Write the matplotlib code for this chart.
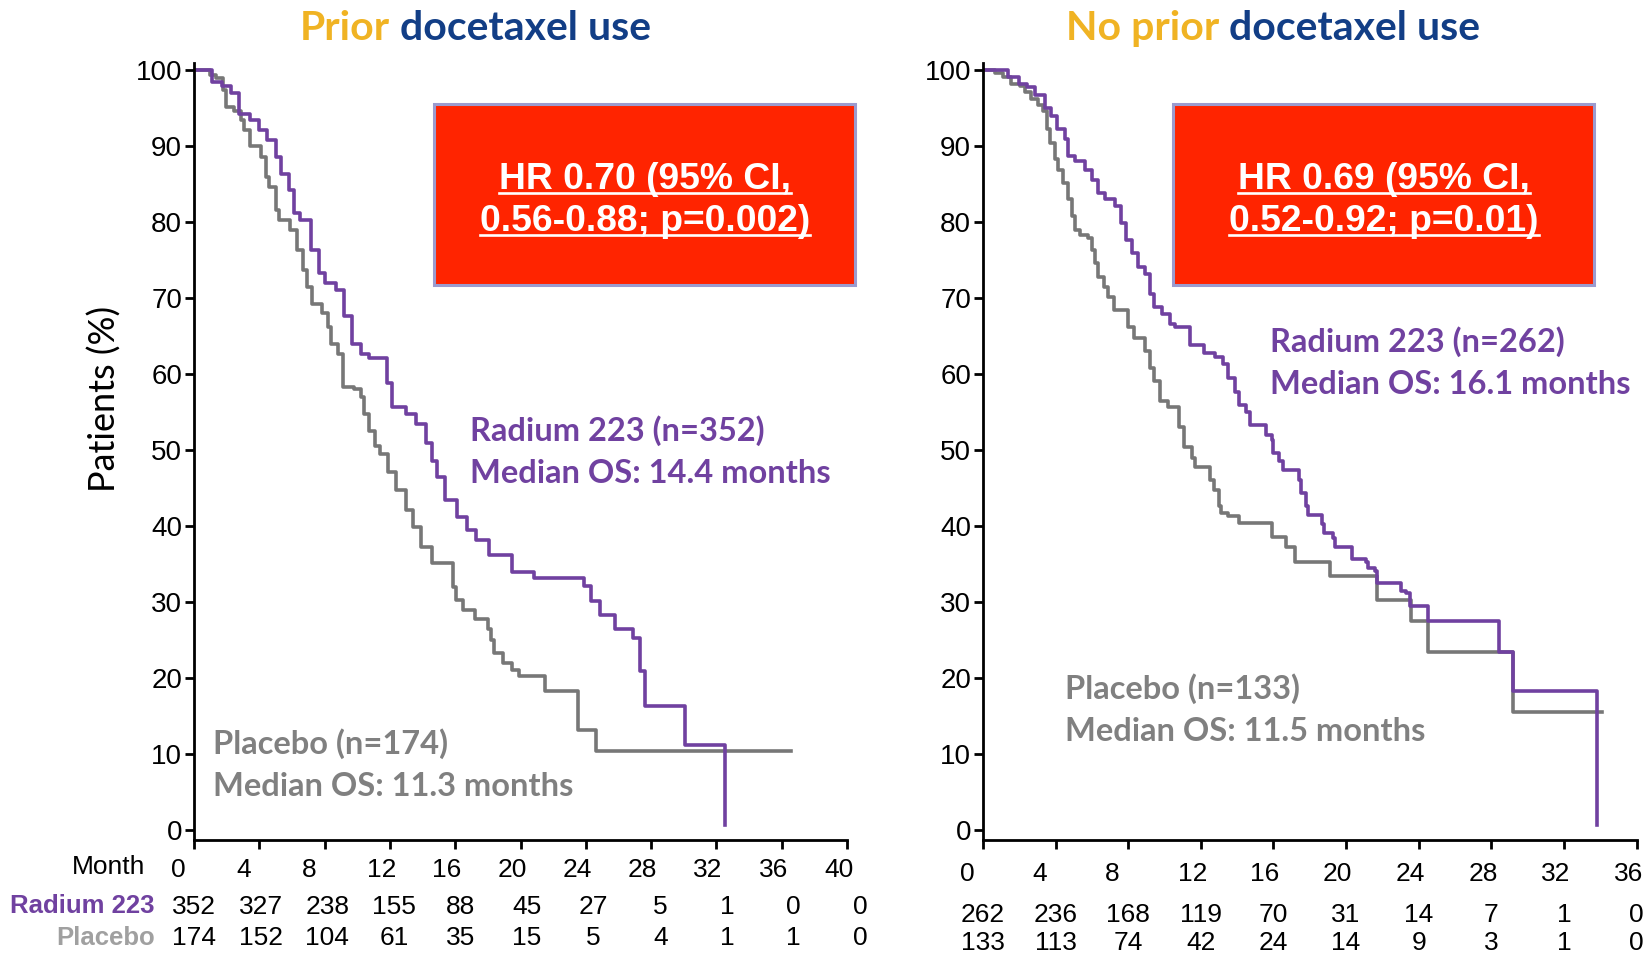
#   Overall survival by prior docetaxel use, radium-223 vs placebo
#
#Python imports
#----------------
import matplotlib
matplotlib.use("Agg")
import matplotlib.pyplot as plt
from matplotlib.patches import Rectangle
from matplotlib.lines import Line2D
from matplotlib.transforms import blended_transform_factory, ScaledTranslation
#----------------

#********************************
#   DATA (months, % alive)
#********************************
prior_ra_t = [0, 1.1, 1.7, 2.25, 2.75, 3.45, 4.0, 4.5, 5.0, 5.3, 5.8, 6.1, 6.5, 7.15, 7.65,
              8.05, 8.7, 9.2, 9.7, 10.2, 10.7, 11.85, 12.15, 13.0, 13.6, 14.2, 14.6, 14.9,
              15.4, 16.1, 16.7, 17.3, 18.1, 19.5, 20.8, 23.9, 24.3, 24.9, 25.8, 26.9, 27.3,
              27.6, 30.1, 32.5]
prior_ra_s = [100, 98.5, 98.0, 97.0, 94.3, 93.5, 92.1, 90.8, 88.6, 86.4, 84.2, 81.2, 80.3,
              76.3, 73.3, 72.0, 71.1, 67.6, 64.0, 62.7, 62.1, 58.8, 55.7, 54.8, 53.5, 50.9,
              48.5, 46.5, 43.4, 41.2, 39.5, 38.2, 36.2, 34.0, 33.1, 32.1, 30.1, 28.3, 26.4,
              25.3, 20.9, 16.3, 11.2, 0.6]

prior_pl_t = [0, 1.0, 1.35, 1.75, 1.95, 2.45, 2.85, 3.05, 3.45, 4.1, 4.4, 4.6, 5.0, 5.2,
              5.85, 6.3, 6.65, 6.95, 7.25, 7.85, 8.2, 8.4, 8.8, 9.1, 9.8, 10.2, 10.4, 10.7,
              11.1, 11.4, 11.9, 12.4, 13.0, 13.4, 13.9, 14.6, 15.85, 16.05, 16.5, 17.2, 18.0,
              18.2, 18.4, 18.9, 19.5, 19.9, 21.5, 23.5, 24.6, 36.6]
prior_pl_s = [100, 99.4, 99.0, 97.4, 95.2, 94.6, 93.5, 92.1, 90.0, 88.6, 86.0, 84.7, 81.6,
              80.3, 79.0, 76.3, 73.7, 71.5, 69.3, 68.0, 66.2, 64.0, 62.7, 58.3, 58.0, 57.0,
              54.8, 52.5, 50.5, 49.5, 47.1, 44.7, 42.1, 39.9, 37.3, 35.1, 32.0, 30.3, 29.0,
              27.7, 26.4, 25.0, 23.3, 22.0, 21.1, 20.3, 18.3, 13.1, 10.4, 10.4]

noprior_ra_t = [0, 1.4, 2.0, 2.4, 2.85, 3.4, 3.75, 4.1, 4.5, 4.7, 5.05, 5.6, 6.0, 6.35, 6.7,
                7.25, 7.6, 7.9, 8.2, 8.55, 8.9, 9.2, 9.4, 9.85, 10.3, 10.6, 11.4, 12.2, 12.8,
                13.2, 13.5, 13.9, 14.1, 14.5, 14.7, 15.6, 15.9, 16.0, 16.3, 16.5, 17.4, 17.5,
                17.8, 17.9, 18.7, 18.8, 19.3, 19.4, 20.3, 21.1, 21.2, 21.6, 21.7, 23.0, 23.3,
                23.5, 24.5, 28.4, 29.2, 33.8]
noprior_ra_s = [100, 99.1, 98.2, 97.8, 96.7, 95.1, 94.0, 92.3, 90.9, 88.7, 88.1, 86.9, 85.6,
                83.8, 83.0, 82.1, 79.9, 77.7, 75.9, 74.1, 73.2, 70.6, 68.8, 67.9, 66.6, 66.2,
                63.9, 62.8, 62.2, 61.3, 59.5, 57.7, 56.0, 55.0, 53.3, 52.0, 51.3, 49.6, 48.5,
                47.4, 46.1, 44.3, 42.6, 41.5, 40.2, 39.1, 38.4, 37.3, 35.6, 35.2, 34.5, 34.1,
                32.5, 31.4, 31.2, 29.5, 27.5, 23.4, 18.3, 0.6]

noprior_pl_t = [0, 0.65, 1.1, 1.55, 2.05, 2.3, 2.65, 3.05, 3.3, 3.5, 3.7, 3.95, 4.15, 4.4,
                4.7, 4.9, 5.05, 5.35, 5.8, 6.0, 6.15, 6.35, 6.65, 6.9, 7.2, 8.0, 8.3, 8.95,
                9.2, 9.4, 9.75, 10.2, 10.8, 11.1, 11.5, 11.7, 12.5, 12.7, 13.0, 13.1, 13.5,
                14.1, 15.9, 16.7, 17.2, 19.1, 21.7, 23.6, 24.5, 29.2, 34.1]
noprior_pl_s = [100, 99.6, 99.1, 98.2, 98.0, 97.1, 96.2, 95.4, 94.7, 92.3, 90.5, 88.3, 86.9,
                85.2, 83.0, 80.8, 79.0, 78.3, 77.9, 76.3, 74.6, 72.8, 71.5, 70.1, 68.4, 66.2,
                64.8, 63.1, 60.8, 59.1, 56.4, 55.7, 53.1, 50.4, 48.9, 47.8, 46.1, 44.8, 42.6,
                41.7, 41.3, 40.4, 38.6, 37.3, 35.2, 33.4, 30.3, 27.5, 23.4, 15.5, 15.5]

prior_months = [0, 4, 8, 12, 16, 20, 24, 28, 32, 36, 40]
prior_risk_ra = [352, 327, 238, 155, 88, 45, 27, 5, 1, 0, 0]
prior_risk_pl = [174, 152, 104, 61, 35, 15, 5, 4, 1, 1, 0]
noprior_months = [0, 4, 8, 12, 16, 20, 24, 28, 32, 36]
noprior_risk_ra = [262, 236, 168, 119, 70, 31, 14, 7, 1, 0]
noprior_risk_pl = [133, 113, 74, 42, 24, 14, 9, 3, 1, 0]

titles = [("Prior", "docetaxel use"), ("No prior", "docetaxel use")]
hr_text = [("HR 0.70 (95% CI,", "0.56-0.88; p=0.002)"),
           ("HR 0.69 (95% CI,", "0.52-0.92; p=0.01)")]
ra_labels = [("Radium 223 (n=352)", "Median OS: 14.4 months"),
             ("Radium 223 (n=262)", "Median OS: 16.1 months")]
pl_labels = [("Placebo (n=174)", "Median OS: 11.3 months"),
             ("Placebo (n=133)", "Median OS: 11.5 months")]

#-------------------------------
# STYLE
#-------------------------------
W, H = 1647, 955
PURPLE = "#7041A0"
GREY = "#777777"
GOLD = "#F0B323"
NAVY = "#123E86"
RED = "#FF2400"
NUM_FONT = ["Liberation Sans", "DejaVu Sans"]
LBL_FONT = ["Lato", "DejaVu Sans"]


def fx(px):
    return px / W


def fy(py):
    return 1 - py / H


fig = plt.figure(figsize=(W / 100, H / 100), dpi=100)
fig.patch.set_facecolor("white")

ax1 = fig.add_axes([fx(194), fy(840.4), fx(847 - 194), (840.4 - 62.8) / H])
ax2 = fig.add_axes([fx(983), fy(840.4), fx(1636.5 - 983), (840.4 - 62.8) / H])


def setup(ax, xmax, pad):
    ax.set_xlim(0, xmax)
    ax.set_ylim(-1.4, 101)
    ax.spines[["top", "right"]].set_visible(False)
    for s in ["left", "bottom"]:
        ax.spines[s].set_linewidth(2.0)
    ax.set_yticks(range(0, 101, 10))
    ax.set_xticks(range(0, xmax + 1, 4))
    ax.tick_params(axis="both", length=6.5, width=2.0, direction="out")
    ax.tick_params(axis="x", pad=pad, labelsize=19)
    ax.tick_params(axis="y", pad=2, labelsize=20)
    shift = ScaledTranslation(-23 / 100, 0, fig.dpi_scale_trans)
    for lab in ax.get_xticklabels():
        lab.set_family(NUM_FONT)
        lab.set_horizontalalignment("left")
        lab.set_transform(lab.get_transform() + shift)
    for lab in ax.get_yticklabels():
        lab.set_family(NUM_FONT)


setup(ax1, 40, 6)
setup(ax2, 36, 9)

ax1.step(prior_pl_t, prior_pl_s, where="post", color=GREY, lw=2.6)
ax1.step(prior_ra_t, prior_ra_s, where="post", color=PURPLE, lw=2.6)
ax2.step(noprior_pl_t, noprior_pl_s, where="post", color=GREY, lw=2.6)
ax2.step(noprior_ra_t, noprior_ra_s, where="post", color=PURPLE, lw=2.6)

fig.text(fx(105), fy(399), "Patients (%)", rotation=90, ha="center", va="center",
         fontsize=26, family=LBL_FONT)

# numbers at risk (left table drifts slightly right of its ticks)
for ax, months, ra, pl, rows, drift in [
        (ax1, prior_months, prior_risk_ra, prior_risk_pl, (907, 938), 1.02),
        (ax2, noprior_months, noprior_risk_ra, noprior_risk_pl, (915, 943), 1.0)]:
    tr = blended_transform_factory(ax.transData, fig.transFigure)
    for m, a, b in zip(months, ra, pl):
        ax.text(m * drift, fy(rows[0]), str(a), transform=tr, ha="center", va="center",
                fontsize=19, family=NUM_FONT)
        ax.text(m * drift, fy(rows[1]), str(b), transform=tr, ha="center", va="center",
                fontsize=19, family=NUM_FONT)

fig.text(fx(145), fy(867), "Month", ha="right", va="center", fontsize=19, family=NUM_FONT)
fig.text(fx(155), fy(906), "Radium 223", ha="right", va="center", fontsize=18.5,
         fontweight="bold", family=NUM_FONT, color=PURPLE)
fig.text(fx(155), fy(938), "Placebo", ha="right", va="center", fontsize=18.5,
         fontweight="bold", family=NUM_FONT, color="#A0A0A0")

# group labels
for (l1, l2), (x, y) in zip(ra_labels, [(470, 431), (1270, 342)]):
    fig.text(fx(x), fy(y), l1, ha="left", va="center", fontsize=23.5, fontweight="bold",
             family=LBL_FONT, color=PURPLE)
    fig.text(fx(x), fy(y + 42), l2, ha="left", va="center", fontsize=23.5, fontweight="bold",
             family=LBL_FONT, color=PURPLE)
for (l1, l2), (x, y) in zip(pl_labels, [(213, 744), (1065, 689)]):
    fig.text(fx(x), fy(y), l1, ha="left", va="center", fontsize=23.5, fontweight="bold",
             family=LBL_FONT, color="#808080")
    fig.text(fx(x), fy(y + 42), l2, ha="left", va="center", fontsize=23.5, fontweight="bold",
             family=LBL_FONT, color="#808080")

# red HR boxes
for x0 in [434, 1173]:
    fig.add_artist(Rectangle((fx(x0), fy(285)), fx(421), 181 / H, transform=fig.transFigure,
                             facecolor=RED, edgecolor="#9B9BCF", lw=2.2))

renderer = fig.canvas.get_renderer()
for (t1, t2), cx in zip(hr_text, [645, 1384]):
    for txt, base in [(t1, 189), (t2, 231)]:
        t = fig.text(fx(cx), fy(base), txt, ha="center", va="baseline", fontsize=26.8,
                     fontweight="bold", family=NUM_FONT, color="white")
        bb = t.get_window_extent(renderer)
        uy = fy(base + 4)
        fig.add_artist(Line2D([bb.x0 / W, bb.x1 / W], [uy, uy], transform=fig.transFigure,
                              color="white", lw=1.9))

# two-colour titles
for (w1, w2), cx in zip(titles, [475, 1273]):
    full = fig.text(fx(cx), fy(40), w1 + " " + w2, ha="center", va="baseline", fontsize=29.5,
                    fontweight="bold", family=LBL_FONT, alpha=0)
    bb = full.get_window_extent(renderer)
    fig.text(bb.x0 / W, fy(40), w1, ha="left", va="baseline", fontsize=29.5,
             fontweight="bold", family=LBL_FONT, color=GOLD)
    fig.text(bb.x1 / W, fy(40), w2, ha="right", va="baseline", fontsize=29.5,
             fontweight="bold", family=LBL_FONT, color=NAVY)

fig.savefig("out.png", dpi=100)
